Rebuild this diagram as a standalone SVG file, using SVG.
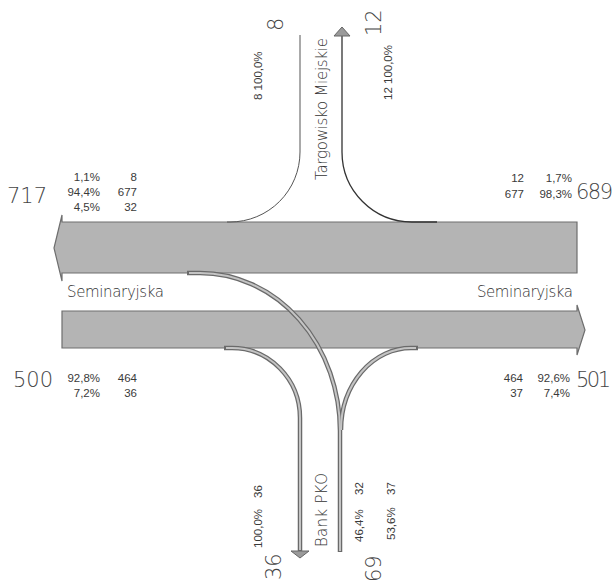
<svg xmlns="http://www.w3.org/2000/svg" width="615" height="583" viewBox="0 0 615 583">
<style>
.band{fill:#b4b4b4;stroke:#6e6e6e;stroke-width:1.2;stroke-linejoin:miter}
.t{font-family:"Liberation Sans",Arial,sans-serif;fill:#3a3a3a}
.s{font-size:11.5px}
.big{font-family:"DejaVu Sans","Liberation Sans",sans-serif;font-weight:200;font-size:21px;fill:#444}
.lab{font-family:"DejaVu Sans","Liberation Sans",sans-serif;font-weight:200;font-size:15px;fill:#333}
.r{text-anchor:end}
.tubeO{fill:none;stroke:#6a6a6a;stroke-width:4.5}
.tubeI{fill:none;stroke:#c4c4c4;stroke-width:2}
.thin{fill:none;stroke:#333;stroke-width:1.3}
.head{fill:#9a9a9a;stroke:#666;stroke-width:1}
</style>
<rect width="615" height="583" fill="#fff"/>
<g id="band-west">
<polygon class="band" points="577,222 62,222 62,215 54,248 62,281 62,273 577,273"/>
</g>
<g id="band-east">
<polygon class="band" points="62,311 577,311 577,305 585,330 577,355 577,348 62,348"/>
</g>
<g id="connectors">
<path class="thin" d="M300,35 L300,152 A70,70 0 0 1 230,222 L227,222" style="stroke:#555;stroke-width:1"/>
<path class="thin" d="M342,35 L342,152 A70,70 0 0 0 412,222 L437,222"/>
<polygon class="head" points="342,27 334,36 350,36"/>
<path class="tubeO" d="M187,273 L200,273 A140,158 0 0 1 340,431 L340,552"/>
<path class="tubeO" d="M418,348 L411,348 A70,82 0 0 0 341,430"/>
<path class="tubeO" d="M224,348 L232,348 A68,70 0 0 1 300,418 L300,551"/>
<path class="tubeI" d="M189,273 L200,273 A140,158 0 0 1 340,431 L340,551"/>
<path class="tubeI" d="M416,348 L411,348 A70,82 0 0 0 341,430"/>
<path class="tubeI" d="M226,348 L232,348 A68,70 0 0 1 300,418 L300,550"/>
<polygon class="head" points="300,558 291,551 309,551"/>
</g>
<g id="west-labels">
<text class="t big" x="7" y="203">717</text>
<text class="t s r" x="100" y="181">1,1%</text>
<text class="t s r" x="100" y="196">94,4%</text>
<text class="t s r" x="100" y="211">4,5%</text>
<text class="t s r" x="137" y="181">8</text>
<text class="t s r" x="137" y="196">677</text>
<text class="t s r" x="137" y="211">32</text>
<text class="t big" x="13" y="387">500</text>
<text class="t s r" x="100" y="382">92,8%</text>
<text class="t s r" x="100" y="397">7,2%</text>
<text class="t s r" x="137" y="382">464</text>
<text class="t s r" x="137" y="397">36</text>
<text class="t lab" x="67" y="297" textLength="97">Seminaryjska</text>
</g>
<g id="east-labels">
<text class="t big" x="576" y="199" textLength="37">689</text>
<text class="t s r" x="524" y="182">12</text>
<text class="t s r" x="524" y="198">677</text>
<text class="t s r" x="572" y="182">1,7%</text>
<text class="t s r" x="572" y="198">98,3%</text>
<text class="t big" x="576" y="387" textLength="35">501</text>
<text class="t s r" x="523" y="382">464</text>
<text class="t s r" x="523" y="397">37</text>
<text class="t s r" x="570" y="382">92,6%</text>
<text class="t s r" x="570" y="397">7,4%</text>
<text class="t lab" x="477" y="297" textLength="96">Seminaryjska</text>
</g>
<g id="north-labels">
<text class="t big" transform="translate(283,31) rotate(-90)">8</text>
<text class="t big" transform="translate(381,36) rotate(-90)">12</text>
<text class="t s" transform="translate(262,100) rotate(-90)">8 100,0%</text>
<text class="t s" transform="translate(392,100) rotate(-90)">12 100,0%</text>
<text class="t lab" transform="translate(327,180) rotate(-90)" textLength="142">Targowisko Miejskie</text>
</g>
<g id="south-labels">
<text class="t s" transform="translate(262,548) rotate(-90)">100,0%</text>
<text class="t s" transform="translate(262,498) rotate(-90)">36</text>
<text class="t lab" transform="translate(327,547) rotate(-90)" textLength="74">Bank PKO</text>
<text class="t s" transform="translate(363,542) rotate(-90)">46,4%</text>
<text class="t s" transform="translate(363,495) rotate(-90)">32</text>
<text class="t s" transform="translate(395,540) rotate(-90)">53,6%</text>
<text class="t s" transform="translate(395,495) rotate(-90)">37</text>
<text class="t big" transform="translate(281,580) rotate(-90)">36</text>
<text class="t big" transform="translate(381,582) rotate(-90)">69</text>
</g>
</svg>
